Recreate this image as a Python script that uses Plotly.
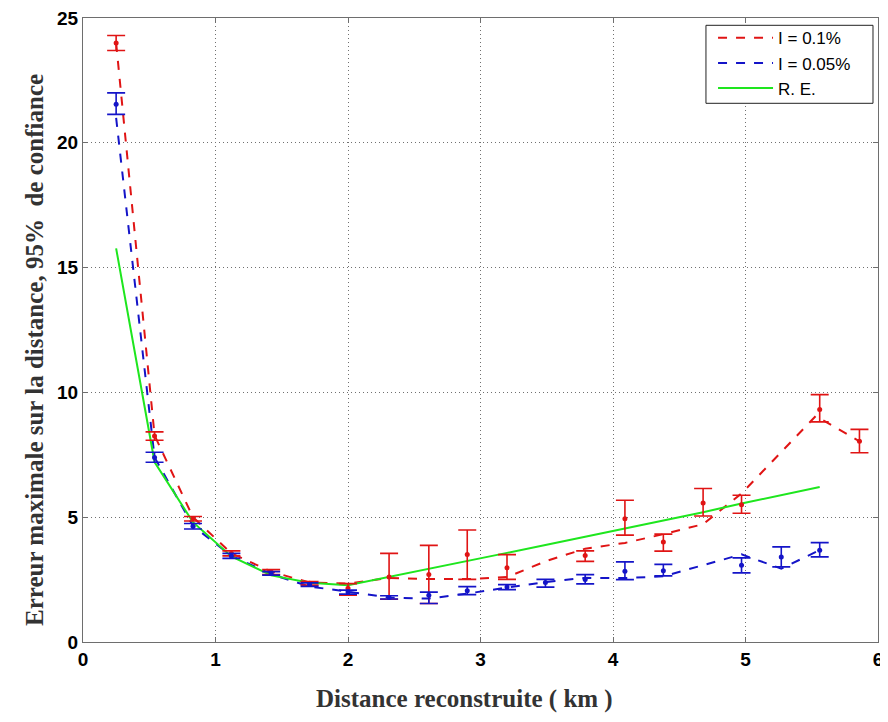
"""
Erreur maximale sur la distance reconstruite (intervalle de confiance 95%).
"""

import plotly.graph_objects as go

# ---------------------------------------------------------------------------
# Data
# ---------------------------------------------------------------------------

# I = 0.1% : dashed curve
x_red_line = [0.25, 0.54, 0.83, 1.12, 1.42, 1.71, 2.0, 2.31, 2.61, 2.9,
              3.2, 3.5, 3.79, 4.09, 4.38, 4.68, 4.97, 5.53, 5.86]
red_line = [24.0, 8.28, 5.0, 3.55, 2.82, 2.38, 2.34, 2.57, 2.52, 2.52,
            2.6, 3.25, 3.74, 3.97, 4.32, 4.72, 5.95, 9.05, 8.04]

# I = 0.1% : points with 95% bounds
x_red_pts = [0.25, 0.54, 0.83, 1.12, 1.42, 1.71, 2.0, 2.31, 2.61, 2.9,
             3.2, 3.79, 4.09, 4.38, 4.68, 4.97, 5.56, 5.86]
red_pts = [24.0, 8.25, 4.95, 3.55, 2.8, 2.35, 2.15, 2.6, 2.7, 3.51,
           2.97, 3.47, 4.94, 4.01, 5.57, 5.5, 9.31, 8.04]
red_hi = [24.3, 8.42, 5.03, 3.65, 2.9, 2.42, 2.34, 3.55, 3.87, 4.49,
          3.5, 3.65, 5.68, 4.32, 6.15, 5.88, 9.91, 8.52]
red_lo = [23.7, 8.08, 4.85, 3.45, 2.7, 2.28, 1.87, 1.71, 1.54, 2.51,
          2.51, 3.23, 4.28, 3.64, 5.05, 5.16, 8.82, 7.58]

# I = 0.05% : dashed curve
x_blue_line = [0.25, 0.54, 0.83, 1.12, 1.42, 1.71, 2.0, 2.31, 2.61, 2.9,
               3.2, 3.49, 3.79, 4.09, 4.38, 4.97, 5.27, 5.56]
blue_line = [21.0, 7.4, 4.65, 3.45, 2.72, 2.22, 2.02, 1.78, 1.74, 1.94,
             2.18, 2.4, 2.57, 2.56, 2.63, 3.51, 2.94, 3.68]

# I = 0.05% : points with 95% bounds
x_blue_pts = [0.25, 0.54, 0.83, 1.12, 1.42, 1.71, 2.0, 2.31, 2.61, 2.9,
              3.2, 3.49, 3.79, 4.09, 4.38, 4.97, 5.27, 5.56]
blue_pts = [21.54, 7.39, 4.64, 3.45, 2.75, 2.3, 2.0, 1.78, 1.87, 2.05,
            2.2, 2.38, 2.5, 2.83, 2.85, 3.07, 3.41, 3.68]
blue_hi = [22.0, 7.6, 4.75, 3.55, 2.82, 2.37, 2.08, 1.85, 2.0, 2.22,
           2.3, 2.51, 2.7, 3.21, 3.11, 3.37, 3.81, 3.98]
blue_lo = [21.14, 7.2, 4.53, 3.35, 2.68, 2.23, 1.92, 1.72, 1.54, 1.9,
           2.1, 2.2, 2.33, 2.5, 2.65, 2.77, 3.01, 3.41]

# R. E.
x_re = [0.25, 0.54, 0.83, 1.12, 1.42, 1.71, 2.0, 2.31, 2.61, 2.9,
        3.2, 3.49, 3.79, 4.09, 4.38, 4.68, 4.97, 5.27, 5.56]
re = [15.77, 7.21, 4.8, 3.43, 2.67, 2.37, 2.27, 2.6, 2.92, 3.25,
      3.57, 3.89, 4.22, 4.55, 4.87, 5.2, 5.55, 5.88, 6.21]

x_ticks = [0, 1, 2, 3, 4, 5, 6]
y_ticks = [0, 5, 10, 15, 20, 25]

x_title = "Distance reconstruite ( km )"
y_title = "Erreur maximale sur la distance, 95%  de confiance"

# ---------------------------------------------------------------------------
# Styling
# ---------------------------------------------------------------------------
RED = "#e01414"
BLUE = "#1414c8"
GREEN = "#1ee61e"
FRAME = "#6e6e6e"
SANS = "Liberation Sans, Arial, sans-serif"
SERIF = "Liberation Serif, Times New Roman, serif"
TITLE_FONT = dict(family=SERIF, size=25, color="#333333", weight="bold")


def err_trace(x, y, hi, lo, color):
    return go.Scatter(
        x=x, y=y, mode="markers", showlegend=False, hoverinfo="skip",
        marker=dict(color=color, size=5),
        error_y=dict(
            type="data", symmetric=False,
            array=[h - v for h, v in zip(hi, y)],
            arrayminus=[v - l for v, l in zip(y, lo)],
            color=color, thickness=1.6, width=9,
        ),
    )


fig = go.Figure()
fig.add_trace(go.Scatter(x=x_red_line, y=red_line, mode="lines", name="I = 0.1%",
                         line=dict(color=RED, width=2, dash="dash")))
fig.add_trace(go.Scatter(x=x_blue_line, y=blue_line, mode="lines", name="I = 0.05%",
                         line=dict(color=BLUE, width=2, dash="dash")))
fig.add_trace(go.Scatter(x=x_re, y=re, mode="lines", name="R. E.",
                         line=dict(color=GREEN, width=2)))
fig.add_trace(err_trace(x_red_pts, red_pts, red_hi, red_lo, RED))
fig.add_trace(err_trace(x_blue_pts, blue_pts, blue_hi, blue_lo, BLUE))

axis_common = dict(
    showline=True, linecolor=FRAME, linewidth=1, mirror="ticks",
    ticks="inside", ticklen=5, tickcolor=FRAME,
    showgrid=True, gridcolor="#707070", griddash="1px,3px", gridwidth=1,
    zeroline=False, automargin=False, ticklabeloverflow="allow",
    tickfont=dict(family=SANS, size=19, color="black", weight="bold"),
)

fig.update_xaxes(range=[0, 6], tickvals=x_ticks, **axis_common)
fig.update_yaxes(range=[0, 25], tickvals=y_ticks, **axis_common)

# axis titles placed as annotations to sit where the original has them
fig.add_annotation(text=x_title, xref="paper", yref="paper", x=0.48, y=0,
                   yshift=-57, xanchor="center", yanchor="middle",
                   showarrow=False, font=TITLE_FONT)
fig.add_annotation(text=y_title, xref="paper", yref="paper", x=0, y=0.468,
                   xshift=-48, xanchor="center", yanchor="middle", textangle=-90,
                   showarrow=False, font=TITLE_FONT)

# legend frame drawn as a box so it can be wider than plotly's own
fig.add_shape(type="rect", xref="paper", yref="paper",
              x0=0.7836, x1=0.9937, y0=0.8633, y1=0.9883,
              line=dict(color="#222222", width=1), fillcolor="white", layer="above")

# the page body adds an 8 px offset, so the figure is made 8 px smaller
fig.update_layout(
    width=880, height=714,
    margin=dict(l=75, r=10, t=10, b=80),
    paper_bgcolor="white", plot_bgcolor="white",
    legend=dict(
        x=0.7925, y=0.9963, xanchor="left", yanchor="top",
        bgcolor="rgba(0,0,0,0)", borderwidth=0,
        font=dict(family=SANS, size=17, color="black"),
        itemwidth=55, tracegroupgap=0,
    ),
)

fig.write_html("out.html")
